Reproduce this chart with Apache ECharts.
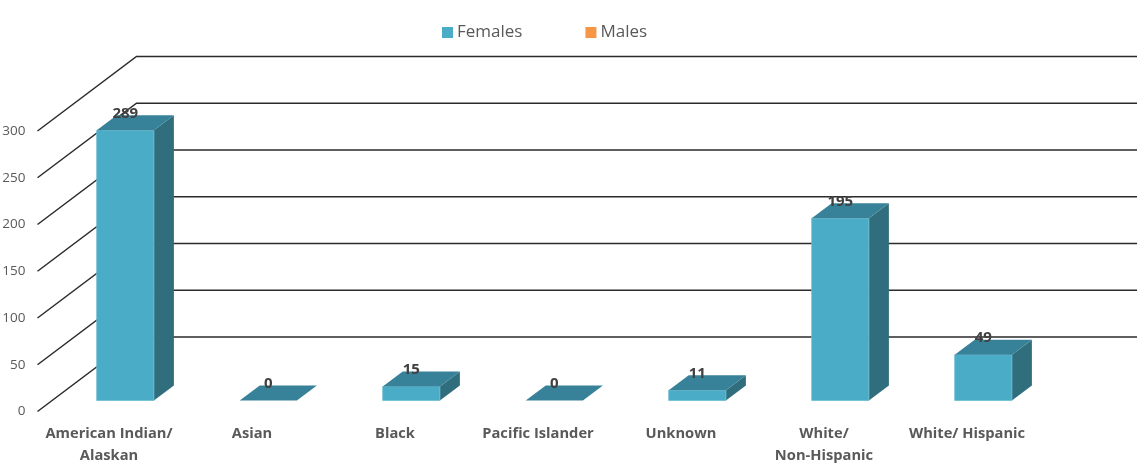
<!DOCTYPE html>
<html><head><meta charset="utf-8">
<style>html,body{margin:0;padding:0;background:#fff}#c{width:1137px;height:463px}</style>
<script src="https://cdn.jsdelivr.net/npm/echarts@6/dist/echarts.min.js"></script>
</head><body><div id="c"></div>
<script>
const categories = ["American Indian/\nAlaskan","Asian","Black","Pacific Islander","Unknown","White/\nNon-Hispanic","White/ Hispanic"];
const females = [289,0,15,0,11,195,49];
const males = [];
const yTicks = [0,50,100,150,200,250,300];

const chart = echarts.init(document.getElementById('c'), null, {renderer:'canvas'});
const FONT = '"Open Sans", sans-serif';
const FRONT='#4aacc6', TOP='#388299', SIDE='#306e7e', EDGE='#6dbdd2';
const wallDx=99, wallDy=74.5, barShiftX=16.3, barShiftY=11, sideDx=20, sideDy=15;

function renderWall(params, api){
  const p = api.coord([0, api.value(0)]);
  const x0 = params.coordSys.x, y = p[1];
  return {type:'polyline', silent:true,
    shape:{points:[[x0,y],[x0+wallDx,y-wallDy],[1137,y-wallDy]]},
    style:{stroke:'#2b2b2b', lineWidth:1.5, fill:null}};
}
function renderBar(params, api){
  const i = api.value(0), v = api.value(1);
  const w = api.size([1,0])[0]*0.4;
  const top = api.coord([i,v]), base = api.coord([i,0]);
  const l = top[0]+barShiftX-w/2, r = l+w, t = top[1]-barShiftY, b = base[1]-barShiftY;
  const children = [];
  if (b-t > 0.5) {
    children.push({type:'polygon', shape:{points:[[r,t],[r+sideDx,t-sideDy],[r+sideDx,b-sideDy],[r,b]]}, style:{fill:SIDE}});
    children.push({type:'rect', shape:{x:l,y:t,width:w,height:b-t}, style:{fill:FRONT, stroke:EDGE, lineWidth:0.8}});
  }
  children.push({type:'polygon', shape:{points:[[l,t],[l+sideDx,t-sideDy],[r+sideDx,t-sideDy],[r,t]]}, style:{fill:TOP}});
  children.push({type:'text', style:{text:String(v), x:(l+r)/2, y:t-16.5, align:'center', verticalAlign:'middle',
    font:'bold 15px '+FONT, fill:'#404040'}, z2:10});
  return {type:'group', children};
}

chart.setOption({
  animation:false,
  backgroundColor:'#fff',
  legend:{
    top:19, left:437, itemWidth:11, itemHeight:11, itemGap:63, icon:'rect',
    textStyle:{fontFamily:FONT, fontSize:17, color:'#595959', padding:[0,0,0,-1]},
    data:[{name:'Females', itemStyle:{color:FRONT}},{name:'Males', itemStyle:{color:'#f79646'}}]
  },
  grid:{left:37.5, top:131, width:1001, height:280.5, outerBoundsMode:'none'},
  xAxis:{type:'category', data:categories, axisLine:{show:false}, axisTick:{show:false}, splitLine:{show:false},
    axisLabel:{interval:0, margin:11, fontFamily:FONT, fontSize:14.7, fontWeight:'bold', color:'#595959', lineHeight:22}},
  yAxis:{type:'value', min:0, max:300, interval:50, axisLine:{show:false}, axisTick:{show:false}, splitLine:{show:false},
    axisLabel:{margin:12, fontFamily:FONT, fontSize:13.5, color:'#595959'}},
  series:[
    {type:'custom', name:'wall', coordinateSystem:'cartesian2d', clip:false, silent:true, z:1,
     renderItem:renderWall, encode:{y:0}, data:yTicks.map(v=>[v])},
    {type:'custom', name:'Females', coordinateSystem:'cartesian2d', clip:false, z:2, itemStyle:{color:FRONT},
     renderItem:renderBar, encode:{x:0,y:1}, data:females.map((v,i)=>[i,v])},
    {type:'custom', name:'Males', coordinateSystem:'cartesian2d', clip:false, z:2, itemStyle:{color:'#f79646'},
     renderItem:renderBar, encode:{x:0,y:1}, data:males.map((v,i)=>[i,v])}
  ]
});
</script></body></html>
